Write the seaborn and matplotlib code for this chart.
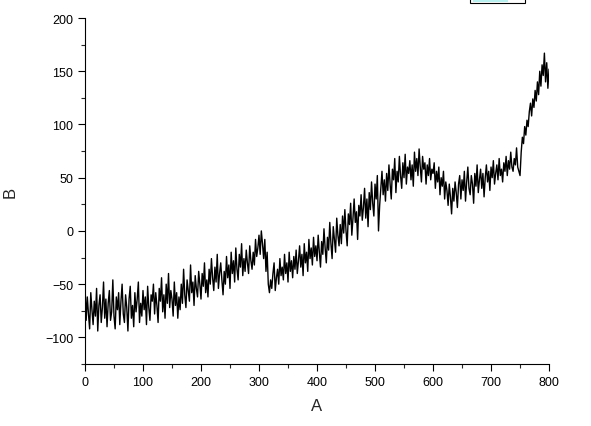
import numpy as np
import pandas as pd
import seaborn as sns
import matplotlib.pyplot as plt
from matplotlib.patches import Rectangle

a_values = np.arange(0, 801, 2)
b_values = [
    -50, -84, -62, -78, -92, -58, -74, -88, -66, -80, -54, -94, -70, -60, -86, -72, -48, -82, -64, -90,
    -68, -56, -84, -76, -46, -80, -92, -62, -74, -58, -88, -66, -50, -78, -86, -60, -72, -94, -64, -52,
    -82, -70, -90, -58, -76, -64, -48, -86, -68, -80, -56, -74, -62, -88, -52, -72, -84, -60, -66, -50,
    -78, -58, -70, -86, -54, -66, -44, -76, -60, -82, -50, -68, -40, -72, -56, -64, -80, -48, -70, -58,
    -82, -62, -74, -50, -68, -36, -60, -72, -46, -56, -66, -32, -58, -48, -70, -42, -54, -62, -38, -50,
    -64, -40, -52, -30, -58, -46, -62, -36, -50, -26, -44, -56, -34, -48, -22, -54, -40, -30, -46, -60,
    -38, -50, -24, -44, -32, -54, -20, -40, -28, -48, -16, -36, -46, -22, -34, -12, -42, -26, -38, -18,
    -30, -40, -14, -28, -36, -20, -32, -8, -24, -16, -4, -22, 0, -12, -26, -8, -38, -20, -50, -58,
    -46, -54, -40, -30, -56, -44, -36, -50, -26, -42, -34, -46, -22, -40, -30, -48, -20, -38, -28, -44,
    -24, -36, -18, -40, -28, -14, -34, -22, -42, -12, -30, -20, -38, -8, -26, -16, -32, -6, -24, -14,
    -28, -4, -20, -34, -10, -22, 2, -16, -30, -6, -18, 8, -12, -26, 4, -8, -20, 12, -4, -14,
    6, -12, 14, -2, 20, 0, -14, 16, 6, 26, -4, 12, 30, 8, 18, -8, 24, 14, 34, 10,
    22, 40, 12, 30, 4, 36, 20, 46, 26, 14, 44, 30, 52, 0, 24, 40, 56, 34, 48, 28,
    54, 38, 62, 44, 30, 58, 48, 68, 36, 56, 46, 70, 52, 40, 64, 50, 72, 44, 60, 54,
    66, 48, 62, 42, 74, 56, 68, 52, 77, 60, 46, 70, 58, 64, 44, 62, 52, 68, 48, 58,
    54, 64, 40, 56, 46, 60, 34, 50, 42, 56, 30, 46, 38, 24, 44, 32, 16, 40, 28, 46,
    36, 22, 44, 52, 30, 48, 38, 56, 28, 46, 60, 40, 34, 52, 44, 26, 54, 42, 62, 36,
    48, 58, 40, 54, 32, 50, 62, 46, 56, 38, 60, 50, 66, 44, 54, 62, 48, 68, 52, 58,
    46, 64, 56, 70, 52, 66, 58, 74, 60, 56, 68, 62, 78, 60, 56, 52, 74, 88, 82, 98,
    90, 104, 98, 112, 120, 108, 124, 116, 132, 122, 140, 128, 150, 136, 156, 146, 167, 140, 158, 134,
    152,
]

df = pd.DataFrame({'A': a_values, 'B': b_values})

sns.set_style('ticks')
plt.rcParams['font.family'] = ['Liberation Sans', 'DejaVu Sans']

fig = plt.figure(figsize=(5.91, 4.27), dpi=100)
ax = fig.add_axes([0.1438, 0.1452, 0.7852, 0.8103])
sns.lineplot(data=df, x='A', y='B', color='black', linewidth=1.0, ax=ax)

ax.set_xlim(0, 800)
ax.set_ylim(-125, 200)
ax.set_xticks(range(0, 801, 100))
ax.set_xticks(range(50, 800, 100), minor=True)
ax.set_yticks(range(-100, 201, 50))
ax.set_yticks(range(-125, 200, 50), minor=True)
ax.tick_params(which='major', direction='out', length=5, width=0.8, labelsize=9, colors='black')
ax.tick_params(which='minor', direction='out', length=3, width=0.8)
ax.set_xlabel('A', fontsize=12, labelpad=7)
ax.set_ylabel('B', fontsize=12, labelpad=20)
sns.despine(ax=ax)
for s in ['left', 'bottom']:
    ax.spines[s].set_linewidth(0.8)
    ax.spines[s].set_color('black')

# cut-off legend box at the top edge
fig.patches.append(Rectangle((470 / 591, 1 - 4 / 427), 55 / 591, 5 / 427,
                             transform=fig.transFigure, facecolor='white',
                             edgecolor='black', linewidth=0.8))
fig.patches.append(Rectangle((473 / 591, 1 - 3 / 427), 35 / 591, 3 / 427,
                             transform=fig.transFigure, facecolor='#b8f0f0',
                             edgecolor='none'))

fig.savefig('out.png', dpi=100)
